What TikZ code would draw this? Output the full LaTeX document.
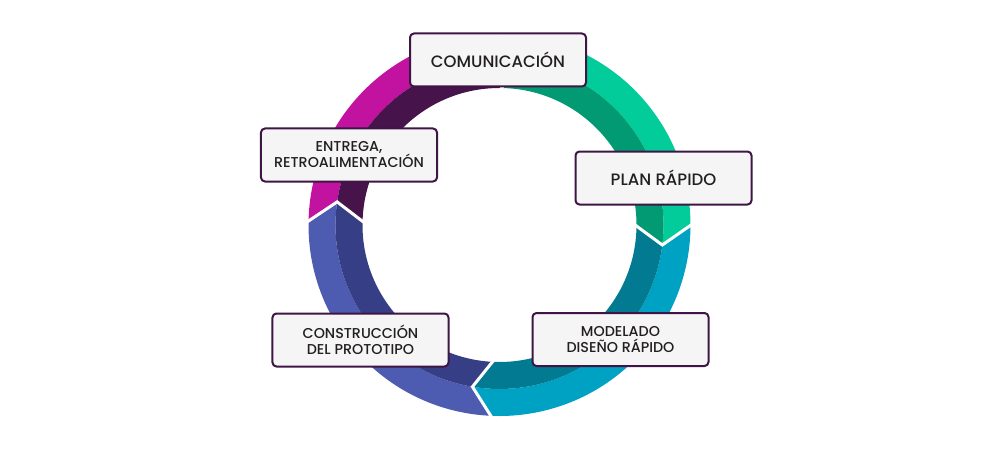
\documentclass[tikz,border=0pt]{standalone}
\usepackage{fontspec}
\setmainfont{Poppins}[UprightFont=* Medium]
\definecolor{magL}{RGB}{193,19,160}
\definecolor{magD}{RGB}{70,19,74}
\definecolor{grnL}{RGB}{2,204,153}
\definecolor{grnD}{RGB}{1,154,115}
\definecolor{tealL}{RGB}{0,162,195}
\definecolor{tealD}{RGB}{2,122,145}
\definecolor{bluL}{RGB}{77,91,176}
\definecolor{bluD}{RGB}{54,63,134}
\definecolor{frame}{RGB}{63,21,69}
\definecolor{boxfill}{RGB}{245,245,245}
\definecolor{ink}{RGB}{35,31,32}
\begin{document}
\begin{tikzpicture}[x=1pt,y=1pt,
    stage/.style ={draw=frame, line width=2pt, fill=boxfill, rounded corners=4pt,
      minimum width=176pt, minimum height=53pt, align=center, text=ink},
    big/.style ={font=\fontsize{16.5}{19}\selectfont},
    small/.style ={font=\fontsize{14.3}{16}\selectfont},
    gap/.style ={white, line width=3pt}]
   \useasboundingbox (-499.5,-225) rectangle (500.5,225);
   \foreach \a/\b/\lc/\dc in {90/0.5/grnL/grnD, 0.5/-92/tealL/tealD,
       -92/-180.6/bluL/bluD, -180.6/-270/magL/magD}{
     \pgfmathsetmacro\ta{\a-7.5}
     \pgfmathsetmacro\tb{\b-7.5}
     \fill[\lc] (\a:191) arc[start angle=\a, end angle=\b, radius=191]
        -- (\tb:164) arc[start angle=\tb, end angle=\ta, radius=164] -- cycle;
     \fill[\dc] (\ta:164) arc[start angle=\ta, end angle=\tb, radius=164]
        -- (\b:137) arc[start angle=\b, end angle=\a, radius=137] -- cycle;
   }
   \foreach \b in {0.5,-92,-180.6,-270}{
     \pgfmathsetmacro\tb{\b-7.5}
     \draw[gap] (\b:194) -- (\tb:164) -- (\b:134);
   }
   \node[stage, big] (com) at (-1.5,165) {COMUNICACIÓN};
   \node[stage, big] (plan) at (164,47) {PLAN RÁPIDO};
   \node[stage, small] (mod) at (121,-114.5) {MODELADO\\DISEÑO RÁPIDO};
   \node[stage, small] (cons) at (-139,-115) {CONSTRUCCIÓN\\DEL PROTOTIPO};
   \node[stage, small] (ent) at (-150.5,70) {ENTREGA,\\RETROALIMENTACIÓN};
 \end{tikzpicture}
\end{document}
